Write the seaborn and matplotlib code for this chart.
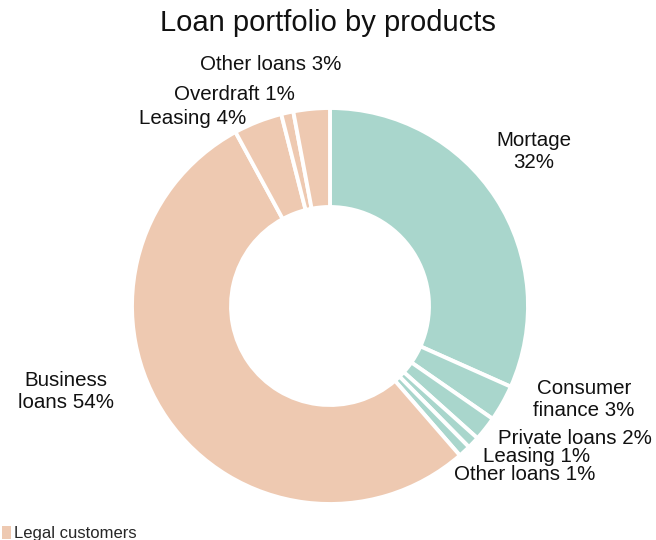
import matplotlib
matplotlib.use("Agg")
import matplotlib.pyplot as plt
from matplotlib.patches import Patch
import seaborn as sns

# Loan products, clockwise from 12 o'clock
products = ["Mortage\n", "Consumer\nfinance ", "Private loans ", "Leasing ", "Other loans ",
            "Business\nloans ", "Leasing ", "Overdraft ", "Other loans "]
shares = [32, 3, 2, 1, 1, 54, 4, 1, 3]
segments = ["Private customers"] * 5 + ["Legal customers"] * 4

segment_colors = {"Private customers": "#A9D6CC", "Legal customers": "#EEC9B1"}

sns.set_theme(style="white")
plt.rcParams["font.family"] = ["Liberation Sans", "DejaVu Sans"]

W, H = 656, 540
fig = plt.figure(figsize=(W / 100, H / 100), dpi=100)
ax = fig.add_axes([0, 0, 1, 1])

cx, cy, r = 330, H - 306, 198
colors = [segment_colors[s] for s in segments]
ax.pie(shares, colors=colors, startangle=90, counterclock=False,
       center=(cx, cy), radius=r, frame=True,
       wedgeprops=dict(width=r * 0.5, edgecolor="white", linewidth=2.8))
ax.set_xlim(0, W)
ax.set_ylim(0, H)
ax.axis("off")

# label positions (pixel coordinates, from the top)
label_pos = [(534, 151), (584, 399), (575, 438), (537, 457), (525, 475),
             (66, 392), (193, 118), (234, 95), (271, 65)]
for name, val, (x, y) in zip(products, shares, label_pos):
    ax.text(x, H - y, f"{name}{val}%", ha="center", va="center",
            fontsize=14.8, color="#111111", linespacing=1.2)

fig.text(0.5, 1 - 23 / H, "Loan portfolio by products", ha="center", va="center",
         fontsize=21, color="#111111")

legal = "Legal customers"
fig.legend(handles=[Patch(facecolor=segment_colors[legal], edgecolor="none", label=legal)],
           loc="lower left", bbox_to_anchor=(-0.014, -0.024), frameon=False,
           fontsize=12, handlelength=0.5, handleheight=0.9, handletextpad=0.2,
           borderpad=0.2)

fig.savefig("out.png", dpi=100)
